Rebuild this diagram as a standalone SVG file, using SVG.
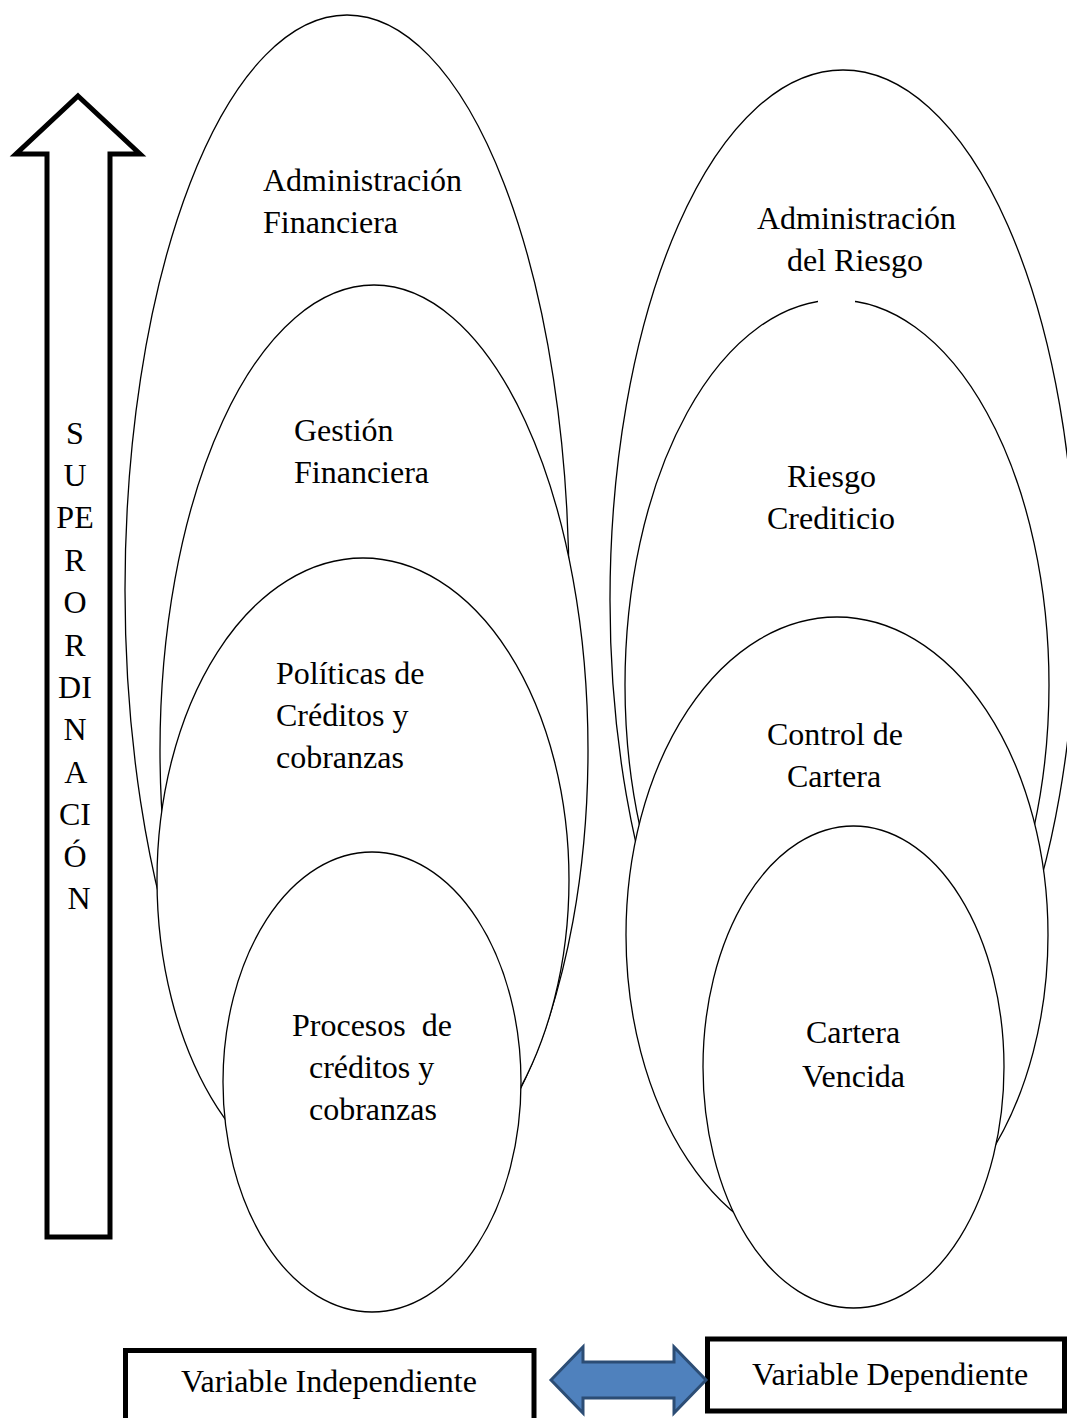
<svg xmlns="http://www.w3.org/2000/svg" width="1067" height="1418" viewBox="0 0 1067 1418">
  <style>
    .ell { fill: #ffffff; stroke: #000000; stroke-width: 1.3; }
    .lbl { font-family: "Liberation Serif", "Times New Roman", serif; font-size: 32px; fill: #000000; }
    .box { fill: #ffffff; stroke: #000000; stroke-width: 5; }
    .mid { text-anchor: middle; }
  </style>
  <rect x="0" y="0" width="1067" height="1418" fill="#ffffff"/>

  <!-- Vertical "superordinación" arrow -->
  <g id="superordinacion">
    <polygon points="78,96 140,154 110,154 110,1237 47,1237 47,154 16,154" fill="#ffffff" stroke="#000000" stroke-width="5" stroke-miterlimit="10"/>
    <text class="lbl mid" x="79">
      <tspan x="79" y="444">S</tspan>
      <tspan x="79" y="486">U</tspan>
      <tspan x="79" y="528">PE</tspan>
      <tspan x="79" y="571">R</tspan>
      <tspan x="79" y="613">O</tspan>
      <tspan x="79" y="656">R</tspan>
      <tspan x="79" y="698">DI</tspan>
      <tspan x="79" y="740">N</tspan>
      <tspan x="79" y="783">A</tspan>
      <tspan x="79" y="825">CI</tspan>
      <tspan x="79" y="867">Ó</tspan>
      <tspan x="79" y="909">N</tspan>
    </text>
  </g>

  <!-- Independent variable: nested ellipses -->
  <g id="administracion-financiera">
    <ellipse class="ell" cx="347" cy="590" rx="222" ry="575"/>
    <text class="lbl" x="263" y="191">Administración</text>
    <text class="lbl" x="263" y="233">Financiera</text>
  </g>
  <g id="gestion-financiera">
    <ellipse class="ell" cx="374" cy="750" rx="214" ry="465"/>
    <text class="lbl" x="294" y="441">Gestión</text>
    <text class="lbl" x="294" y="483">Financiera</text>
  </g>
  <g id="politicas-creditos">
    <ellipse class="ell" cx="363" cy="880" rx="206" ry="322"/>
    <text class="lbl" x="276" y="684">Políticas de</text>
    <text class="lbl" x="276" y="726">Créditos y</text>
    <text class="lbl" x="276" y="768">cobranzas</text>
  </g>
  <g id="procesos-creditos">
    <ellipse class="ell" cx="372" cy="1082" rx="149" ry="230"/>
    <text class="lbl" x="292" y="1036" xml:space="preserve">Procesos  de</text>
    <text class="lbl" x="309" y="1078">créditos y</text>
    <text class="lbl" x="309" y="1120">cobranzas</text>
  </g>

  <!-- Dependent variable: nested ellipses -->
  <g id="administracion-riesgo">
    <ellipse class="ell" cx="843" cy="600" rx="233" ry="530"/>
    <text class="lbl" x="757" y="229">Administración</text>
    <text class="lbl" x="787" y="271">del Riesgo</text>
  </g>
  <g id="riesgo-crediticio">
    <ellipse class="ell" cx="837" cy="685" rx="212" ry="385"/>
    <rect x="818" y="294" width="37" height="12" fill="#ffffff"/>
    <text class="lbl" x="787" y="487">Riesgo</text>
    <text class="lbl" x="767" y="529">Crediticio</text>
  </g>
  <g id="control-cartera">
    <ellipse class="ell" cx="837" cy="935" rx="211" ry="318"/>
    <text class="lbl" x="767" y="745">Control de</text>
    <text class="lbl" x="787" y="787">Cartera</text>
  </g>
  <g id="cartera-vencida">
    <ellipse class="ell" cx="853.5" cy="1067" rx="150.5" ry="241"/>
    <text class="lbl" x="806" y="1043">Cartera</text>
    <text class="lbl" x="802" y="1087">Vencida</text>
  </g>

  <!-- Variable boxes -->
  <g id="variable-independiente">
    <rect class="box" x="125.5" y="1350.5" width="408.5" height="90"/>
    <text class="lbl" x="181" y="1392">Variable Independiente</text>
  </g>
  <g id="variable-dependiente">
    <rect class="box" x="707.5" y="1339" width="357" height="72"/>
    <text class="lbl" x="752" y="1385">Variable Dependiente</text>
  </g>

  <!-- Relation between the two variables -->
  <g id="connectors">
    <polygon points="551,1380 583,1347 583,1362 674,1362 674,1347 706,1380 674,1413 674,1398 583,1398 583,1413" fill="#4f81bd" stroke="#2c4d75" stroke-width="3" stroke-linejoin="miter"/>
  </g>
</svg>
